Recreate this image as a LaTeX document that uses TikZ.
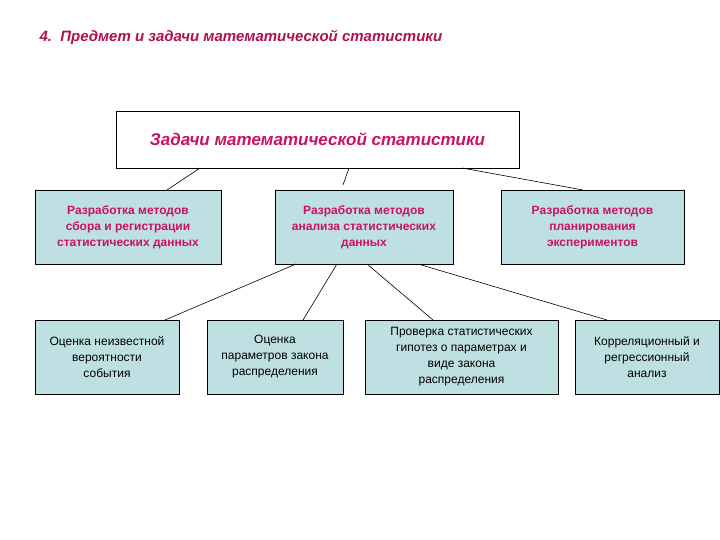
\documentclass[tikz,border=0pt]{standalone}
\usepackage{fontspec}
\setmainfont{Liberation Sans}
\begin{document}
\begin{tikzpicture}[x=1pt,y=-1pt,
  bx/.style={draw=black,line width=0.8pt,fill=boxfill,align=center,inner sep=0pt},
  rtwo/.style={font=\fontsize{12}{16}\selectfont\bfseries,text=mag},
  rthree/.style={font=\fontsize{12}{16}\selectfont,text=black},
  ln/.style={line width=0.6pt}]
\definecolor{boxfill}{HTML}{BEE0E3}
\definecolor{mag}{HTML}{CC1160}
\definecolor{ttl}{HTML}{B0104F}
\useasboundingbox (0,0) rectangle (720,540);
\node[anchor=west,text=ttl,font=\fontsize{15}{18}\selectfont\bfseries\itshape] (title) at (36,37) {4.\ \ Предмет и задачи математической статистики};
\node[draw=black,line width=0.8pt,fill=white,minimum width=403,minimum height=57,text=mag,font=\fontsize{17}{20}\selectfont\bfseries\itshape] (top) at (317.5,139.5) {Задачи математической статистики};
\node[bx,rtwo,minimum width=186,minimum height=74] (a) at (128,227) {Разработка методов\\сбора и регистрации\\статистических данных};
\node[bx,rtwo,minimum width=178,minimum height=74] (b) at (364,227) {Разработка методов\\анализа статистических\\данных};
\node[bx,rtwo,minimum width=183,minimum height=74] (c) at (592.5,227) {Разработка методов\\планирования\\экспериментов};
\node[bx,rthree,minimum width=144,minimum height=74] (d) at (107,357) {Оценка неизвестной\\вероятности\\события};
\node[bx,rthree,minimum width=136,minimum height=74] (e) at (275,357) {Оценка\\параметров закона\\распределения};
\node[bx,rthree,minimum width=193,minimum height=74] (f) at (461.5,357) {Проверка статистических\\гипотез о параметрах и\\виде закона\\распределения};
\node[bx,rthree,minimum width=144,minimum height=74] (g) at (647,357) {Корреляционный и\\регрессионный\\анализ};
\coordinate (t1) at (200,168); \coordinate (a1) at (167,190);
\coordinate (t2) at (349,168); \coordinate (b1) at (343,185);
\coordinate (t3) at (462,168); \coordinate (c1) at (583,190);
\coordinate (b2) at (296,264); \coordinate (d1) at (165,320);
\coordinate (b3) at (337,264); \coordinate (e1) at (303,320);
\coordinate (b4) at (367,264); \coordinate (f1) at (433,320);
\coordinate (b5) at (418,264); \coordinate (g1) at (607,320);
\draw[ln] (t1)--(a1); \draw[ln] (t2)--(b1); \draw[ln] (t3)--(c1);
\draw[ln] (b2)--(d1); \draw[ln] (b3)--(e1); \draw[ln] (b4)--(f1); \draw[ln] (b5)--(g1);
\end{tikzpicture}
\end{document}
